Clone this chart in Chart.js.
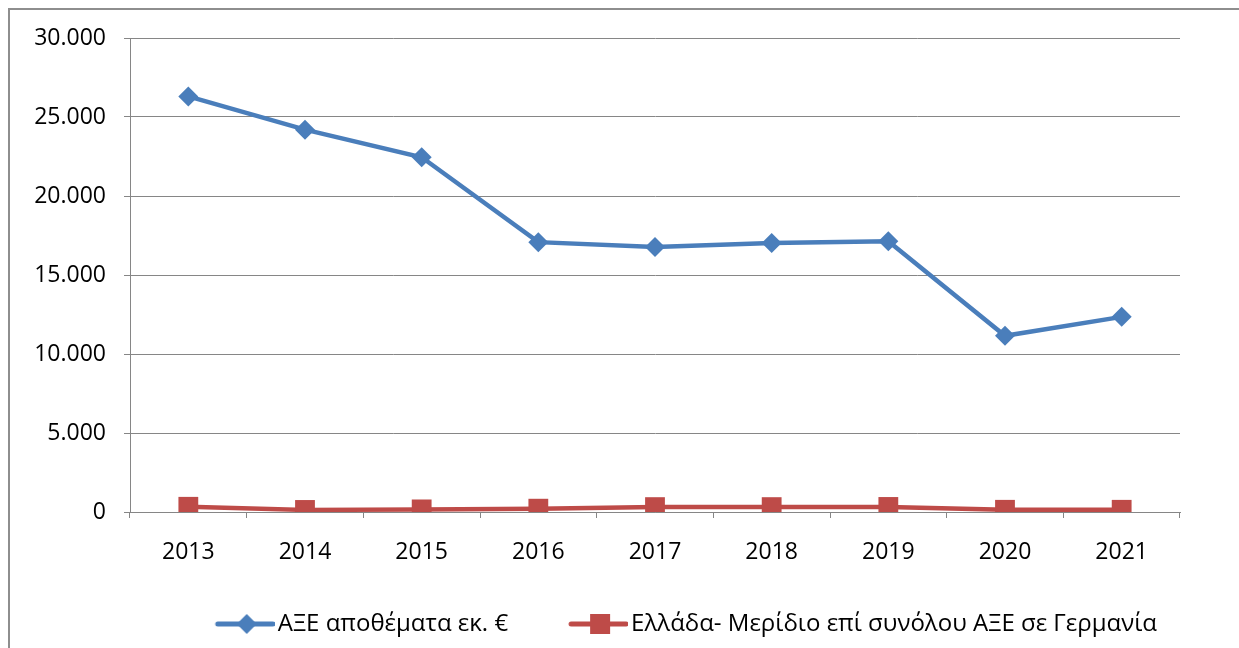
<!DOCTYPE html>
<html>
<head>
<meta charset="utf-8">
<script src="https://cdn.jsdelivr.net/npm/chart.js@4.4.1/dist/chart.umd.min.js"></script>
<style>
  html, body { margin: 0; padding: 0; background: #fff; overflow: hidden; }
  #wrap { position: relative; width: 1239px; height: 648px; }
  #frame { position: absolute; left: 8px; top: 8px; width: 1300px; height: 700px;
           border-left: 2px solid #8e8e8e; border-top: 2px solid #8e8e8e; }
  canvas { position: absolute; left: 0; top: 0; }
</style>
</head>
<body>
<div id="wrap">
  <div id="frame"></div>
  <canvas id="chart" width="1239" height="648"></canvas>
</div>
<script>
const years = ['2013', '2014', '2015', '2016', '2017', '2018', '2019', '2020', '2021'];
const fdiStock = [26300, 24200, 22450, 17080, 16780, 17020, 17140, 11150, 12350];
const greeceShare = [330, 130, 165, 210, 310, 310, 320, 140, 140];
const seriesNames = ['ΑΞΕ αποθέματα εκ. €', 'Ελλάδα- Μερίδιο επί συνόλου ΑΞΕ σε Γερμανία'];
const yMax = 30000;
const yStep = 5000;

const blue = '#4A7EBB';
const red = '#BE4B48';
const gridColor = '#868686';
const fontFamily = '"Open Sans", "Liberation Sans", sans-serif';

// legend icons: line with marker like Excel, drawn in the right part of a wider image
// (the empty left part gives the gap between the two legend entries)
function legendIcon(color, shape) {
    const c = document.createElement('canvas');
    c.width = 106; c.height = 22;
    const g = c.getContext('2d');
    g.strokeStyle = color;
    g.lineWidth = 5;
    g.lineCap = 'round';
    g.beginPath(); g.moveTo(49, 11); g.lineTo(104, 11); g.stroke();
    g.fillStyle = color;
    const cx = 78;
    if (shape === 'diamond') {
        g.beginPath(); g.moveTo(cx, 1); g.lineTo(cx + 10, 11); g.lineTo(cx, 21); g.lineTo(cx - 10, 11); g.closePath(); g.fill();
    } else {
        g.fillRect(cx - 10, 1, 20, 20);
    }
    return c;
}

function formatThousands(v) {
    return String(v).replace(/\B(?=(\d{3})+(?!\d))/g, '.');
}

const ctx = document.getElementById('chart').getContext('2d');
new Chart(ctx, {
    type: 'line',
    data: {
        labels: years,
        datasets: [{
            label: seriesNames[0],
            data: fdiStock,
            borderColor: blue,
            backgroundColor: blue,
            borderWidth: 4.5,
            pointStyle: 'rectRot',
            pointRadius: 10,
            pointBorderWidth: 0,
            tension: 0
        }, {
            label: seriesNames[1],
            data: greeceShare,
            borderColor: red,
            backgroundColor: red,
            borderWidth: 4.5,
            pointStyle: 'rect',
            pointRadius: 14,
            pointBorderWidth: 0,
            tension: 0
        }]
    },
    options: {
        responsive: false,
        animation: false,
        layout: { padding: { top: 38, right: 59, left: 0, bottom: 2 } },
        plugins: {
            tooltip: { enabled: false },
            legend: {
                position: 'bottom',
                align: 'end',
                labels: {
                    usePointStyle: true,
                    pointStyleWidth: 88,
                    padding: 23,
                    color: '#000',
                    font: { family: fontFamily, size: 24 },
                    generateLabels(chart) {
                        const icons = [legendIcon(blue, 'diamond'), legendIcon(red, 'square')];
                        return chart.data.datasets.map((ds, i) => ({
                            text: ds.label,
                            pointStyle: icons[i],
                            fillStyle: ds.borderColor,
                            strokeStyle: ds.borderColor,
                            lineWidth: 0,
                            hidden: false,
                            datasetIndex: i
                        }));
                    }
                }
            }
        },
        scales: {
            x: {
                offset: true,
                grid: { offset: true, drawOnChartArea: false, tickLength: 6, color: gridColor, lineWidth: 1 },
                border: { color: gridColor, width: 1 },
                ticks: { color: '#000', padding: 21, maxRotation: 0, font: { family: fontFamily, size: 23 } },
                afterFit(scale) { scale.height = 77; }
            },
            y: {
                min: 0,
                max: yMax,
                grid: { color: gridColor, lineWidth: 1, tickLength: 6 },
                border: { color: gridColor, width: 1 },
                ticks: {
                    stepSize: yStep,
                    color: '#000',
                    padding: 18,
                    font: { family: fontFamily, size: 23 },
                    callback: v => formatThousands(v)
                },
                afterFit(scale) { scale.width = 130; }
            }
        }
    }
});
</script>
</body>
</html>
